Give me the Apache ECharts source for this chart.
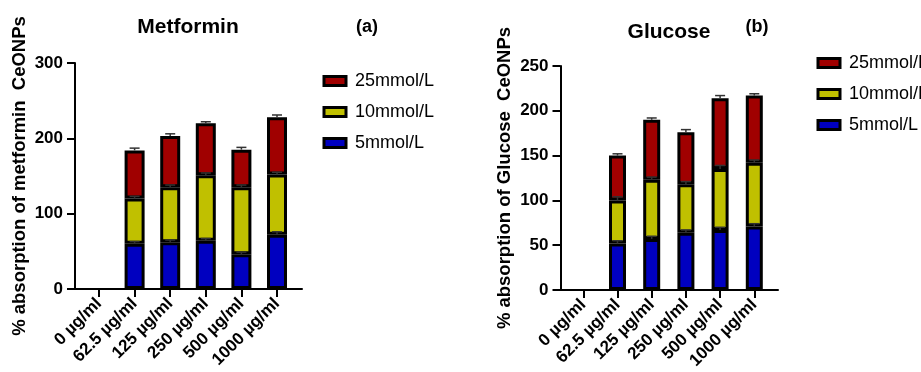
<!DOCTYPE html>
<html>
<head>
<meta charset="utf-8">
<script src="https://cdn.jsdelivr.net/npm/echarts@6/dist/echarts.min.js"></script>
<style>
  html, body { margin: 0; padding: 0; background: #fff; }
  #chart { width: 921px; height: 372px; }
</style>
</head>
<body>
<div id="chart"></div>
<script>
// categories (x axis)
var doses = ["0 µg/ml", "62.5 µg/ml", "125 µg/ml", "250 µg/ml", "500 µg/ml", "1000 µg/ml"];
var legendNames = ["25mmol/L", "10mmol/L", "5mmol/L"];

// (a) Metformin
var met5 = [0, 60, 62, 64, 46, 72];
var met10 = [0, 60, 73, 87, 89, 80];
var met25 = [0, 64, 68, 69, 50, 76];
var met5Err = [0, 3, 3, 3, 3, 4];
var met10Err = [0, 3, 3, 3, 3, 3];
var met25Err = [0, 3, 3, 2, 3, 3];

// (b) Glucose
var glu5 = [0, 52, 57, 64, 67, 71];
var glu10 = [0, 48, 66, 54, 68, 71];
var glu25 = [0, 50, 67, 58, 79, 75];
var glu5Err = [0, 3, 3, 3, 3, 3];
var glu10Err = [0, 4, 3, 3, 4, 3];
var glu25Err = [0, 2, 2, 3, 3, 2];

var font = "Liberation Sans, Arial, sans-serif";
var colors = { "5mmol/L": "#0000c0", "10mmol/L": "#c0c000", "25mmol/L": "#a00000" };

// error caps sit on top of each stacked segment
function errData(segs, errs) {
  var out = [];
  for (var i = 0; i < doses.length; i++) {
    var acc = 0;
    for (var s = 0; s < segs.length; s++) {
      acc += segs[s][i];
      if (segs[s][i] > 0) out.push([i, acc, errs[s][i]]);
    }
  }
  return out;
}

function renderErr(params, api) {
  var x = api.value(0), top = api.value(1), e = api.value(2);
  var p0 = api.coord([x, top]);
  var p1 = api.coord([x, top + e]);
  var style = { stroke: "#333", lineWidth: 1.5 };
  return {
    type: "group",
    children: [
      { type: "line", shape: { x1: p0[0], y1: p0[1], x2: p1[0], y2: p1[1] }, style: style },
      { type: "line", shape: { x1: p1[0] - 5, y1: p1[1], x2: p1[0] + 5, y2: p1[1] }, style: style }
    ]
  };
}

// frame grids (0, 1) carry the y axis and the full x axis line;
// plot grids (2, 3) carry the categories, bars and error caps
function frameX(idx) {
  return {
    type: "value", gridIndex: idx, min: 0, max: 1,
    axisLine: { show: true, lineStyle: { color: "#000", width: 2 } },
    axisTick: { show: false }, axisLabel: { show: false }, splitLine: { show: false }
  };
}

function plotX(idx) {
  return {
    type: "category", gridIndex: idx, data: doses,
    axisLine: { show: true, onZero: false, lineStyle: { color: "#000", width: 2 } },
    axisTick: { show: true, inside: false, alignWithLabel: true, length: 8, lineStyle: { color: "#000", width: 2 } },
    axisLabel: {
      interval: 0, rotate: 45, margin: 12, color: "#000",
      fontWeight: "bold", fontSize: 17, fontFamily: font
    }
  };
}

function frameY(idx, max, interval, name) {
  return {
    type: "value", gridIndex: idx, min: 0, max: max, interval: interval,
    name: name, nameLocation: "middle", nameRotate: 90, nameGap: 46,
    nameTextStyle: { color: "#000", fontWeight: "bold", fontSize: 18.5, fontFamily: font },
    splitLine: { show: false },
    axisLine: { show: true, lineStyle: { color: "#000", width: 2 } },
    axisTick: { show: true, length: 8, lineStyle: { color: "#000", width: 2 } },
    axisLabel: { color: "#000", fontWeight: "bold", fontSize: 17, margin: 12, fontFamily: font }
  };
}

function plotY(idx, max) {
  return {
    type: "value", gridIndex: idx, min: 0, max: max,
    axisLine: { show: false }, axisTick: { show: false },
    axisLabel: { show: false }, splitLine: { show: false }
  };
}

function barSeries(name, data, idx, stack, w) {
  return {
    name: name, type: "bar", stack: stack,
    xAxisIndex: idx, yAxisIndex: idx, barWidth: w,
    // no bar at all where nothing was measured
    data: data.map(function (v) { return v > 0 ? v : "-"; }),
    itemStyle: { color: colors[name], borderColor: "#000", borderWidth: 3 }
  };
}

function legendFor(left, top) {
  return {
    data: legendNames, orient: "vertical", left: left, top: top,
    icon: "rect", itemWidth: 22, itemHeight: 9, itemGap: 13,
    itemStyle: { borderColor: "#000", borderWidth: 3 },
    textStyle: { color: "#000", fontSize: 18, fontFamily: font, padding: [0, 0, 0, 4] }
  };
}

var metSegs = [met5, met10, met25];
var gluSegs = [glu5, glu10, glu25];

var chart = echarts.init(document.getElementById("chart"));
var option = {
  backgroundColor: "#fff",
  animation: false,
  title: [
    { text: "Metformin", left: 183, top: 12, textAlign: "center",
      textStyle: { fontSize: 21, fontWeight: "bold", color: "#000", fontFamily: font } },
    { text: "(a)", left: 362, top: 13, textAlign: "center",
      textStyle: { fontSize: 18, fontWeight: "bold", color: "#000", fontFamily: font } },
    { text: "Glucose", left: 664, top: 17, textAlign: "center",
      textStyle: { fontSize: 21, fontWeight: "bold", color: "#000", fontFamily: font } },
    { text: "(b)", left: 752, top: 13, textAlign: "center",
      textStyle: { fontSize: 18, fontWeight: "bold", color: "#000", fontFamily: font } }
  ],
  legend: [legendFor(317.5, 67), legendFor(811.5, 49)],
  grid: [
    { left: 75, top: 63, width: 227, height: 226 },
    { left: 560.5, top: 66, width: 217.5, height: 224 },
    { left: 81.2, top: 63, width: 213.6, height: 226 },
    { left: 566.2, top: 66, width: 205.2, height: 224 }
  ],
  xAxis: [frameX(0), frameX(1), plotX(2), plotX(3)],
  yAxis: [
    frameY(0, 300, 100, "% absorption of metformin  CeONPs"),
    frameY(1, 250, 50, "% absorption of Glucose  CeONPs"),
    plotY(2, 300),
    plotY(3, 250)
  ],
  series: [
    barSeries("5mmol/L", met5, 2, "a", 20),
    barSeries("10mmol/L", met10, 2, "a", 20),
    barSeries("25mmol/L", met25, 2, "a", 20),
    barSeries("5mmol/L", glu5, 3, "b", 17),
    barSeries("10mmol/L", glu10, 3, "b", 17),
    barSeries("25mmol/L", glu25, 3, "b", 17),
    { type: "custom", xAxisIndex: 2, yAxisIndex: 2, z: 10, renderItem: renderErr,
      data: errData(metSegs, [met5Err, met10Err, met25Err]) },
    { type: "custom", xAxisIndex: 3, yAxisIndex: 3, z: 10, renderItem: renderErr,
      data: errData(gluSegs, [glu5Err, glu10Err, glu25Err]) }
  ]
};
chart.setOption(option);
</script>
</body>
</html>
